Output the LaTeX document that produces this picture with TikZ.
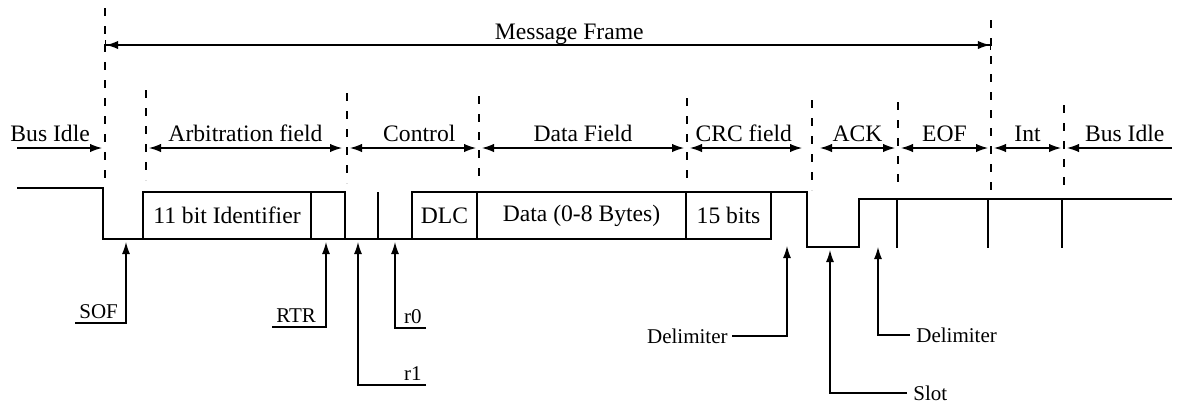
\documentclass[tikz,border=0pt]{standalone}
\usepackage{fontspec}
\setmainfont{Liberation Serif}
\usetikzlibrary{arrows.meta}

\tikzset{
  tip/.style={Latex[length=6pt,width=4.2pt]},
  bus/.style={line width=0.7pt},
  bound/.style={line width=0.6pt, dash pattern=on 4pt off 5pt},
  span/.style={line width=0.6pt, {Latex[length=6pt,width=4.2pt]}-{Latex[length=6pt,width=4.2pt]}},
  bitbox/.style={draw, line width=0.7pt, minimum height=23.5pt, inner sep=0pt, outer sep=0pt, anchor=south west},
  ptr/.style={line width=0.6pt, -{Latex[length=6pt,width=4pt]}, font=\fontsize{10.5}{12}\selectfont},
  lbl/.style={above=3pt, inner sep=0pt},
  ptrlbl/.style={inner sep=2pt, font=\fontsize{10.5}{12}\selectfont}
}

\begin{document}
\begin{tikzpicture}[x=0.5pt,y=-0.5pt,font=\fontsize{11.8}{14}\selectfont]
\useasboundingbox (0,0) rectangle (1184,404);

% field boundaries
\foreach \name/\x/\top/\bot in {b0/105/8/178, b1/146/90/180, b2/347/93/183, b3/479/96/185,
    b4/687/98/187, b5/812/100/190, b6/898/102/190, b7/991/20/192, b8/1064/105/193} {
  \coordinate (\name) at (\x,148);
  \draw[bound] (\x,\top) -- (\x,\bot);
}

% message frame
\coordinate (m0) at (105,45);
\coordinate (m1) at (991,45);
\draw[line width=0.6pt, {Bar[width=5pt]Latex[length=6pt,width=4.2pt]}-{Latex[length=6pt,width=4.2pt]Bar[width=5pt]}]
  (m0) -- node[above=0pt, inner sep=0pt, pos=0.524] {Message Frame} (m1);

% fields
\coordinate (idleL) at (17,148);
\coordinate (idleR) at (1172,148);
\draw[line width=0.6pt, -{Latex[length=6pt,width=4.2pt]}] (idleL) -- node[lbl, pos=0.39] {Bus Idle} ([xshift=-1.5pt]b0);
\draw[span] ([xshift=1.5pt]b1) -- node[lbl] {Arbitration field} ([xshift=-2.5pt]b2);
\draw[span] ([xshift=1.5pt]b2) -- node[lbl, pos=0.55] {Control} ([xshift=-1.5pt]b3);
\draw[span] ([xshift=1.5pt]b3) -- node[lbl] {Data Field} ([xshift=-1.5pt]b4);
\draw[span] ([xshift=1.5pt]b4) -- node[lbl, pos=0.48] {CRC field} ([xshift=-5pt]b5);
\draw[span] ([xshift=4pt]b5) -- node[lbl] {ACK} ([xshift=-1.5pt]b6);
\draw[span] ([xshift=1.5pt]b6) -- node[lbl] {EOF} ([xshift=-1.5pt]b7);
\draw[span] ([xshift=1.5pt]b7) -- node[lbl] {Int} ([xshift=-1.5pt]b8);
\draw[line width=0.6pt, {Latex[length=6pt,width=4.2pt]}-] ([xshift=1.5pt]b8) -- node[lbl, pos=0.55] {Bus Idle} (idleR);

% bit boxes
\node[bitbox, minimum width=84pt] (ident) at (143,239) {11 bit Identifier};
\node[bitbox, minimum width=17pt] (rtrbit) at (ident.south east) {};
\node[bitbox, minimum width=32.5pt] (dlc) at (412,239) {DLC};
\node[bitbox, minimum width=104.5pt] (data) at (dlc.south east) {Data (0-8 Bytes)};
\node[bitbox, minimum width=42.5pt] (crcbits) at (data.south east) {15 bits};

% signal
\draw[bus] (17,188) -- (103,188) -- (103,239) -- (ident.south west);
\draw[bus] (rtrbit.south east) -- (dlc.south west);
\draw[bus] (378,192) -- (378,239);
\draw[bus] (crcbits.north east) -- (807,192) -- (807,247) -- (859,247) -- (859,199) -- (1172,199);
\foreach \x in {897,988,1062}
  \draw[bus] (\x,199) -- (\x,248);

% pointers
\coordinate (sofbit) at (126,242);
\coordinate (rtrpt) at (326,242);
\coordinate (ronebit) at (358,242);
\coordinate (rzerobit) at (395,242);
\coordinate (crcdelbit) at (787,246);
\coordinate (slotbit) at (830,250);
\coordinate (ackdelbit) at (878,247);

\node[ptrlbl, above right] (sof) at (75,323) {SOF};
\node[ptrlbl, above right] (rtr) at (272,327) {RTR};
\node[ptrlbl, above left] (rone) at (426,385) {r1};
\node[ptrlbl, above left] (rzero) at (426,328) {r0};
\node[ptrlbl, left] (crcdel) at (732,336) {Delimiter};
\node[ptrlbl, right, inner sep=3pt] (slot) at (907,393) {Slot};
\node[ptrlbl, right, inner sep=3pt] (ackdel) at (910,335) {Delimiter};

\draw[ptr] (sof.south west) -| (sofbit);
\draw[ptr] (rtr.south west) -| (rtrpt);
\draw[ptr] (rone.south east) -| (ronebit);
\draw[ptr] (rzero.south east) -| (rzerobit);
\draw[ptr] (crcdel.east) -| (crcdelbit);
\draw[ptr] (slot.west) -| (slotbit);
\draw[ptr] (ackdel.west) -| (ackdelbit);
\end{tikzpicture}
\end{document}
